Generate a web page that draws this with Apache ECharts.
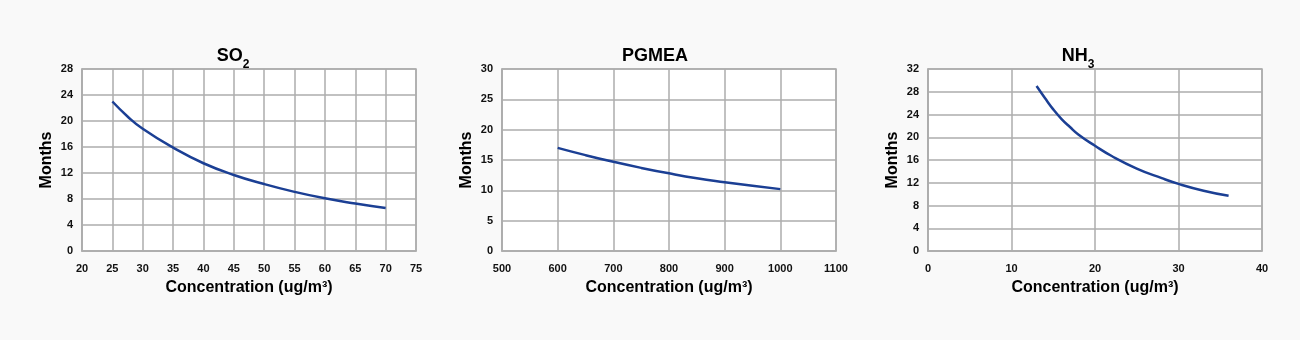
<!DOCTYPE html>
<html><head><meta charset="utf-8">
<script src="https://cdn.jsdelivr.net/npm/echarts@6/dist/echarts.min.js"></script>
<style>html,body{margin:0;padding:0;background:#f9f9f9;}#c{width:1300px;height:340px;}</style>
</head><body><div id="c"></div>
<script>
// SO2
const so2X = [25, 27.5, 30, 35, 40, 45, 50, 55, 60, 65, 70];
const so2Y = [23.0, 20.7, 18.8, 15.9, 13.5, 11.7, 10.3, 9.1, 8.1, 7.3, 6.6];
// PGMEA
const pgX = [600, 650, 700, 750, 800, 850, 900, 950, 1000];
const pgY = [17.0, 15.8, 14.7, 13.7, 12.8, 12.0, 11.35, 10.75, 10.2];
// NH3
const nhX = [13, 14, 15, 16, 17, 18, 20, 22, 25, 28, 30, 33, 36];
const nhY = [29.0, 26.9, 24.9, 23.2, 21.8, 20.5, 18.5, 16.7, 14.5, 12.8, 11.8, 10.6, 9.7];

const titles = [
  {rich: '{m|SO}{s|2}', center: 228},
  {rich: '{m|PGMEA}', center: 650},
  {rich: '{m|NH}{s|3}', center: 1073}
];
const xRanges = [[20, 75, 5], [500, 1100, 100], [0, 40, 10]];
const yRanges = [[0, 28, 4], [0, 30, 5], [0, 32, 4]];
const gridLefts = [82, 502, 928];

const FONT = '"Liberation Sans", Arial, sans-serif';
const lineColor = '#1b3f94';
const gridColor = '#adadad';

const pair = (xs, ys) => xs.map((x, i) => [x, ys[i]]);
const seriesData = [pair(so2X, so2Y), pair(pgX, pgY), pair(nhX, nhY)];

const option = {
  backgroundColor: '#f9f9f9',
  animation: false,
  title: titles.map(t => ({
    text: t.rich,
    left: t.center,
    top: 42,
    textAlign: 'center',
    textStyle: {
      rich: {
        m: {fontFamily: FONT, fontWeight: 'bold', fontSize: 18, color: '#000', lineHeight: 24, verticalAlign: 'top'},
        s: {fontFamily: FONT, fontWeight: 'bold', fontSize: 12, color: '#000', lineHeight: 12, verticalAlign: 'bottom'}
      }
    }
  })),
  grid: gridLefts.map(l => ({
    left: l, width: 334, top: 69, height: 182,
    show: true, backgroundColor: '#ffffff', borderColor: gridColor, borderWidth: 1.5
  })),
  xAxis: xRanges.map((r, i) => ({
    type: 'value', gridIndex: i, min: r[0], max: r[1], interval: r[2],
    name: 'Concentration (ug/m³)', nameLocation: 'middle', nameGap: 29,
    nameTextStyle: {fontFamily: FONT, fontWeight: 'bold', fontSize: 16, color: '#000'},
    axisLine: {show: true, lineStyle: {color: gridColor, width: 1.5}},
    axisTick: {show: false},
    axisLabel: {fontFamily: FONT, fontWeight: 'bold', fontSize: 11, color: '#111', margin: 12,
      formatter: v => String(v)},
    splitLine: {show: true, lineStyle: {color: gridColor, width: 1.5}}
  })),
  yAxis: yRanges.map((r, i) => ({
    type: 'value', gridIndex: i, min: r[0], max: r[1], interval: r[2],
    name: 'Months', nameLocation: 'middle', nameGap: 27, nameRotate: 90,
    nameTextStyle: {fontFamily: FONT, fontWeight: 'bold', fontSize: 16, color: '#000'},
    axisLine: {show: true, lineStyle: {color: gridColor, width: 1.5}},
    axisTick: {show: false},
    axisLabel: {fontFamily: FONT, fontWeight: 'bold', fontSize: 11, color: '#111', margin: 9,
      formatter: v => String(v)},
    splitLine: {show: true, lineStyle: {color: gridColor, width: 1.5}}
  })),
  series: seriesData.map((d, i) => ({
    type: 'line', xAxisIndex: i, yAxisIndex: i, data: d,
    smooth: 0.5, showSymbol: false, symbol: 'none',
    lineStyle: {color: lineColor, width: 2.5}
  }))
};
echarts.init(document.getElementById('c'), null, {renderer: 'canvas'}).setOption(option);
</script>
</body></html>
